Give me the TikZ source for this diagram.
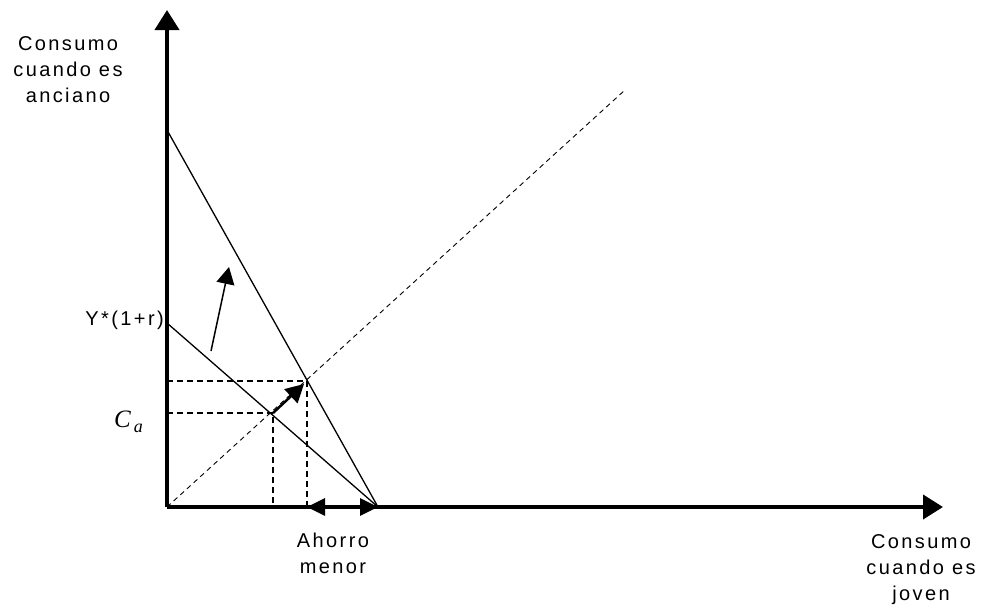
\documentclass[tikz,border=0pt]{standalone}
\usepackage{fontspec}
\setmainfont{Liberation Sans}
\newfontfamily\lblfont[LetterSpace=12]{Liberation Sans}
\newfontfamily\serifit{Liberation Serif}
\usetikzlibrary{arrows.meta}
\begin{document}
\begin{tikzpicture}[x=1pt,y=-1pt,
  axis/.style={line width=4pt,-{Triangle[length=20pt,width=24pt]}},
  budget/.style={line width=1.3pt},
  guide/.style={line width=1.4pt,dash pattern=on 6pt off 4pt},
  diag/.style={line width=0.9pt,dash pattern=on 5pt off 4pt},
  lbl/.style={font=\fontsize{20}{26}\selectfont\lblfont,align=center,inner sep=0pt}]
\useasboundingbox (0,0) rectangle (983,608);
% key points
\coordinate (O) at (167,507);
\coordinate (ytop) at (167,10);
\coordinate (xend) at (943,507);
\coordinate (A) at (167,130);
\coordinate (B) at (167,323);
\coordinate (M) at (378,507);
\coordinate (P1) at (273,413);
\coordinate (P2) at (307,381);
\coordinate (D) at (625,90);
\coordinate (P1x) at (273,507);
\coordinate (P2x) at (307,507);
\coordinate (P1y) at (167,413);
\coordinate (P2y) at (167,381);
\coordinate (r1) at (211,351);
\coordinate (r2) at (229,267);
\coordinate (P2t) at (304,384);
% dashed diagonal
\draw[diag] (O) -- (D);
% guides
\draw[guide] (P2y) -- (P2) -- (P2x);
\draw[guide] (P1y) -- (P1) -- (P1x);
% budget lines
\draw[budget] (A) -- (M);
\draw[budget] (B) -- (M);
% rotation arrow
\draw[line width=1.5pt,-{Triangle[length=17pt,width=18pt]}] (r1) -- (r2);
% shift arrow
\draw[line width=2.5pt,-{Triangle[length=18pt,width=19pt]}] (P1) -- (P2t);
% axes
\draw[axis] (O) -- (ytop);
\draw[axis] (O) -- (xend);
% savings double arrow
\draw[line width=3pt,{Triangle[length=18pt,width=17pt]}-{Triangle[length=18pt,width=17pt]}] (P2x) -- (M);
% labels
\node[lbl,anchor=base] (yl) at (68,102) {Consumo\\cuando es\\anciano};
\node[lbl,anchor=base] (xl) at (921,600) {Consumo\\cuando es\\joven};
\node[lbl,anchor=base] (sv) at (333,573) {Ahorro\\menor};
\node[lbl,anchor=base east] (yr) at (164,325) {Y*(1+r)};
\node[inner sep=0pt,anchor=base west] (ca) at (114,427) {\fontsize{25}{28}\selectfont\serifit\itshape C\raisebox{-5pt}{\fontsize{18}{20}\selectfont\,a}};
\end{tikzpicture}
\end{document}
